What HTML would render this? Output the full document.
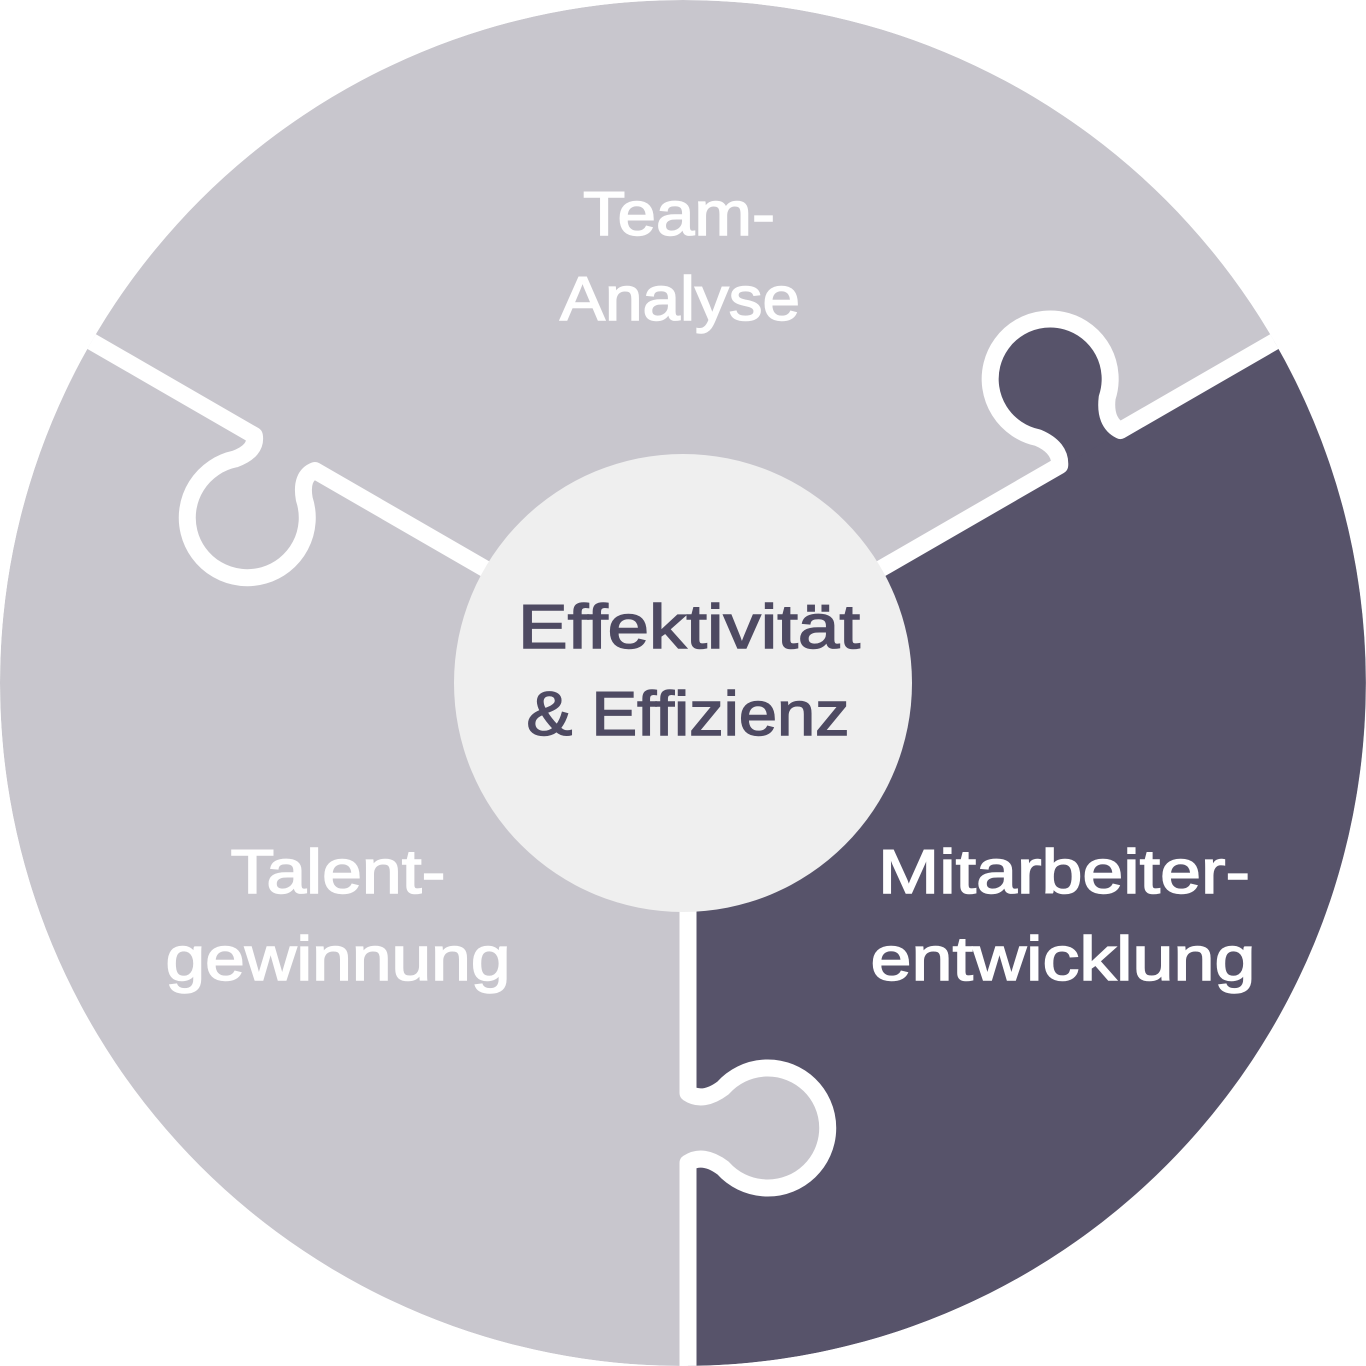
<!DOCTYPE html>
<html><head><meta charset="utf-8"><style>html,body{margin:0;padding:0;background:#fff;overflow:hidden;width:1366px;height:1366px}svg{display:block}</style></head>
<body>
<svg width="1366" height="1366" viewBox="0 0 1366 1366" xmlns="http://www.w3.org/2000/svg">
<defs>
<clipPath id="c"><circle cx="683" cy="683" r="683"/></clipPath>
</defs>
<g clip-path="url(#c)">
<circle cx="683" cy="683" r="683" fill="#c8c6cd"/>
<path d="M683 683 L1274 341 A683 683 0 0 1 688 1366 Z" fill="#57536a"/>
<g transform="translate(683 683) rotate(-30)">
<path d="M435 2 Q445 -15 430 -35 A60 60 0 1 1 510 -35 Q495 -15 505 2 Z" fill="#57536a"/>
</g>
<g transform="translate(688 658) rotate(90)">
<path d="M435 2 Q445 -15 430 -35 A60 60 0 1 1 510 -35 Q495 -15 505 2 Z" fill="#c8c6cd"/>
</g>
<g fill="none" stroke="#fff" stroke-width="17" stroke-linejoin="round">
<g transform="translate(683 683) rotate(-30)">
<path d="M0 0 L435 0 Q445 -15 430 -35 A60 60 0 1 1 510 -35 Q495 -15 505 0 L800 0"/>
</g>
<g transform="translate(683 683) rotate(210)">
<path d="M0 0 L425 0 Q435 -12 420 -30 A60 60 0 1 1 500 -30 Q485 -12 495 0 L800 0"/>
</g>
<g transform="translate(688 658) rotate(90)">
<path d="M0 0 L435 0 Q445 -15 430 -35 A60 60 0 1 1 510 -35 Q495 -15 505 0 L800 0"/>
</g>
</g>
</g>
<circle cx="683" cy="683" r="229" fill="#efefef"/>
<g font-family="Liberation Sans, sans-serif" font-size="62" text-anchor="middle" fill="#fff" stroke="#fff" stroke-width="1.5">
<text x="679" y="235" textLength="192" lengthAdjust="spacingAndGlyphs">Team-</text>
<text x="680" y="320" textLength="240" lengthAdjust="spacingAndGlyphs">Analyse</text>
<text x="338" y="893" textLength="215" lengthAdjust="spacingAndGlyphs">Talent-</text>
<text x="338" y="980" textLength="345" lengthAdjust="spacingAndGlyphs">gewinnung</text>
<text x="1064" y="893" textLength="372" lengthAdjust="spacingAndGlyphs">Mitarbeiter-</text>
<text x="1063" y="980" textLength="385" lengthAdjust="spacingAndGlyphs">entwicklung</text>
<g fill="#4e4a62" stroke="#4e4a62">
<text x="689" y="648" textLength="342" lengthAdjust="spacingAndGlyphs">Effektivität</text>
<text x="688" y="735" textLength="323" lengthAdjust="spacingAndGlyphs">&amp; Effizienz</text>
</g>
</g>
</svg>
</body></html>
